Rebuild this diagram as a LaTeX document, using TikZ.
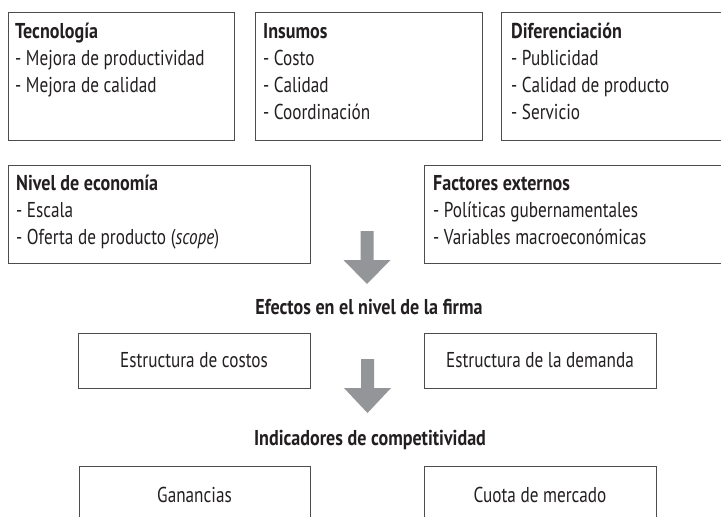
\documentclass[tikz,border=0pt]{standalone}
\usepackage{fontspec}
\setmainfont{PT Sans}[FakeStretch=0.80, BoldFeatures={FakeStretch=0.84}]
\definecolor{ink}{HTML}{231F20}
\definecolor{boxline}{HTML}{4D4D4D}
\definecolor{arrowgray}{HTML}{939598}
\begin{document}
\begin{tikzpicture}[x=1pt,y=-1pt,
  frame/.style={draw=boxline, line width=0.9pt, inner sep=0pt, outer sep=0pt, anchor=north west},
  listtext/.style={align=left, inner sep=0pt, anchor=base west, text=ink, font=\fontsize{21.5}{27}\selectfont},
  plain/.style={text=ink, font=\fontsize{21.5}{27}\selectfont},
  heading/.style={text=ink, font=\bfseries\fontsize{21.5}{27}\selectfont, inner sep=0pt, anchor=base},
  bigarrow/.style={fill=arrowgray}]
\useasboundingbox (0,0) rectangle (721,517);
\clip (0,0) rectangle (721,517);
% top row (list nodes are anchored at the baseline of their last line)
\node[frame, minimum width=226pt, minimum height=128pt] (tec) at (8,12) {};
\node[listtext] (tect) at (15,92) {\textbf{Tecnología}\\- Mejora de productividad\\- Mejora de calidad};
\node[frame, minimum width=227pt, minimum height=128pt] (ins) at (255,12) {};
\node[listtext] (inst) at (263,119) {\textbf{Insumos}\\- Costo\\- Calidad\\- Coordinación};
\node[frame, minimum width=240pt, minimum height=128pt] (dif) at (501,12) {};
\node[listtext] (dift) at (511,119) {\textbf{Diferenciación}\\- Publicidad\\- Calidad de producto\\- Servicio};
% second row
\node[frame, minimum width=302pt, minimum height=98pt] (niv) at (8,165) {};
\node[listtext] (nivt) at (16,244) {\textbf{Nivel de economía}\\- Escala\\- Oferta de producto (\textit{scope})};
\node[frame, minimum width=317pt, minimum height=98pt] (fac) at (424,165) {};
\node[listtext] (fact) at (433,244) {\textbf{Factores externos}\\- Políticas gubernamentales\\- Variables macroeconómicas};
% arrow 1
\fill[bigarrow] (360.5,231) -- (373.5,231) -- (373.5,260) -- (390.5,260) -- (367,284) -- (343.5,260) -- (360.5,260) -- cycle;
\node[heading] (efectos) at (369,314) {Efectos en el nivel de la firma};
% firm level
\node[frame, plain, minimum width=232pt, minimum height=55pt] (costos) at (78,333) {Estructura de costos};
\node[frame, plain, minimum width=232pt, minimum height=55pt] (demanda) at (424,333) {Estructura de la demanda};
% arrow 2
\fill[bigarrow] (361,359) -- (374,359) -- (374,388) -- (391,388) -- (367.5,413) -- (344,388) -- (361,388) -- cycle;
\node[heading] (indic) at (370,445) {Indicadores de competitividad};
% indicators
\node[frame, plain, minimum width=231pt, minimum height=58pt] (gan) at (79,466) {Ganancias};
\node[frame, plain, minimum width=232pt, minimum height=58pt] (cuota) at (424,466) {Cuota de mercado};
\end{tikzpicture}
\end{document}
